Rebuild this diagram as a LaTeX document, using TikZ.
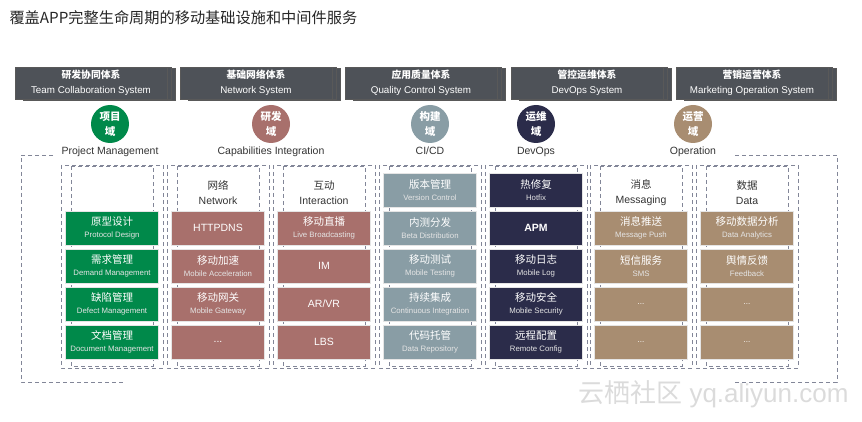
\documentclass[tikz,border=0pt]{standalone}
\usepackage{fontspec}
\setmainfont{Liberation Sans}
\newfontfamily\cjk{Noto Sans CJK SC}
\usetikzlibrary{positioning}

\definecolor{sysgray}{RGB}{78,82,88}
\definecolor{pmgreen}{RGB}{0,137,74}
\definecolor{cirose}{RGB}{168,112,108}
\definecolor{cdblue}{RGB}{137,157,165}
\definecolor{opsnavy}{RGB}{43,44,74}
\definecolor{optan}{RGB}{168,141,113}
\definecolor{dashgray}{RGB}{130,134,152}

\newcommand*{\zh}[1]{{\cjk #1}}
\newcommand*{\cellt}[2]{\zh{#1}\\[-1pt]{\fontsize{7.8}{9}\selectfont\color{white!90!black}#2}}
\newcommand*{\smalldots}{{\fontsize{8}{9}\selectfont...}}
\newcommand*{\celldots}{...}

\begin{document}
\begin{tikzpicture}
[
	x=1pt,y=-1pt,
	sysbox/.style={draw=black!65,fill=sysgray,line width=0.5pt,minimum width=152pt,minimum height=32pt,inner sep=0pt,align=center,text=white,font=\fontsize{9.8}{15}\selectfont},
	domain/.style={circle,fill=#1,minimum size=38pt,inner sep=0pt,align=center,text=white,font=\fontsize{10.5}{15}\selectfont\cjk\bfseries},
	domlabel/.style={text=black!80,font=\fontsize{10.5}{12}\selectfont},
	cell/.style={draw=black!10,fill=#1,line width=0.6pt,minimum width=93pt,minimum height=34pt,inner sep=0pt,align=center,text=white,font=\fontsize{10.5}{13}\selectfont},
	colhead/.style={align=center,text=black!80,font=\fontsize{10.5}{15}\selectfont},
	frame/.style={draw=dashgray,dash pattern=on 4pt off 3pt,line width=0.6pt},
]
	\useasboundingbox (0,0) rectangle (862,422);

	% title
	\node[anchor=west,text=black!85,font=\fontsize{15.2}{17}\selectfont\cjk] (title) at (6,18) {覆盖APP完整生命周期的移动基础设施和中间件服务};

	% systems
	\foreach \sx/\cn/\en [count=\k] in {91/研发协同体系/Team Collaboration System,256/基础网络体系/Network System,421/应用质量体系/Quality Control System,587/管控运维体系/DevOps System,752/营销运营体系/Marketing Operation System}{
		\node[sysbox] at (\sx+8,84) {};
		\node[sysbox] at (\sx+4,83) {};
		\node[sysbox] (sys\k) at (\sx,83) {\zh{\bfseries\cn}\\\en};
	}

	% domains
	\node[domain=pmgreen] (pm) at (110,124) {项目\\域};
	\node[domain=cirose] (ci) at (271,124) {研发\\域};
	\node[domain=cdblue] (cd) at (430,124) {构建\\域};
	\node[domain=opsnavy] (ops) at (536,124) {运维\\域};
	\node[domain=optan] (op) at (693,124) {运营\\域};
	\node[domlabel,below=0pt of pm] (pmlabel) {Project Management};
	\node[domlabel,below=0pt of ci] (cilabel) {Capabilities Integration};
	\node[domlabel,below=0pt of cd] (cdlabel) {CI/CD};
	\node[domlabel,below=0pt of ops] (opslabel) {DevOps};
	\node[domlabel,below=0pt of op] (oplabel) {Operation};

	% frames
	\draw[frame] (53,155) -- (21,155) -- (21,382) -- (123,382);
	\draw[frame] (735,155) -- (837,155) -- (837,382) -- (735,382);
	\foreach \cx in {112,218,324,430,536,641,747}{
		\draw[frame] (\cx-51,165) rectangle (\cx+51,368);
		\draw[frame] (\cx-41,166) rectangle (\cx+41,366);
	}

	% column heads
	\node[colhead] (nethead) at (218,193) {\zh{网络}\\Network};
	\node[colhead] (inthead) at (324,193) {\zh{互动}\\Interaction};
	\node[colhead] (msghead) at (641,193) {\zh{消息}\\Messaging};
	\node[colhead] (datahead) at (747,193) {\zh{数据}\\Data};

	% cells
	\foreach \r/\txt in {1/{\cellt{原型设计}{Protocol Design}},2/{\cellt{需求管理}{Demand Management}},3/{\cellt{缺陷管理}{Defect Management}},4/{\cellt{文档管理}{Document Management}}}
		\node[cell=pmgreen] (pm\r) at (112,190+38*\r) {\txt};
	\foreach \r/\txt in {1/HTTPDNS,2/{\cellt{移动加速}{Mobile Acceleration}},3/{\cellt{移动网关}{Mobile Gateway}},4/\celldots}
		\node[cell=cirose] (net\r) at (218,190+38*\r) {\txt};
	\foreach \r/\txt in {1/{\cellt{移动直播}{Live Broadcasting}},2/IM,3/{AR/VR},4/LBS}
		\node[cell=cirose] (int\r) at (324,190+38*\r) {\txt};
	\foreach \r/\txt in {0/{\cellt{版本管理}{Version Control}},1/{\cellt{内测分发}{Beta Distribution}},2/{\cellt{移动测试}{Mobile Testing}},3/{\cellt{持续集成}{Continuous Integration}},4/{\cellt{代码托管}{Data Repository}}}
		\node[cell=cdblue] (cd\r) at (430,190+38*\r) {\txt};
	\foreach \r/\txt in {0/{\cellt{热修复}{Hotfix}},1/{\bfseries APM},2/{\cellt{移动日志}{Mobile Log}},3/{\cellt{移动安全}{Mobile Security}},4/{\cellt{远程配置}{Remote Config}}}
		\node[cell=opsnavy] (ops\r) at (536,190+38*\r) {\txt};
	\foreach \r/\txt in {1/{\cellt{消息推送}{Message Push}},2/{\cellt{短信服务}{SMS}},3/\smalldots,4/\smalldots}
		\node[cell=optan] (msg\r) at (641,190+38*\r) {\txt};
	\foreach \r/\txt in {1/{\cellt{移动数据分析}{Data Analytics}},2/{\cellt{舆情反馈}{Feedback}},3/\smalldots,4/\smalldots}
		\node[cell=optan] (data\r) at (747,190+38*\r) {\txt};

	% watermark
	\node[anchor=east,text=black!14,font=\fontsize{26}{28}\selectfont] (mark) at (852,394) {\zh{云栖社区} yq.aliyun.com};

\end{tikzpicture}
\end{document}
